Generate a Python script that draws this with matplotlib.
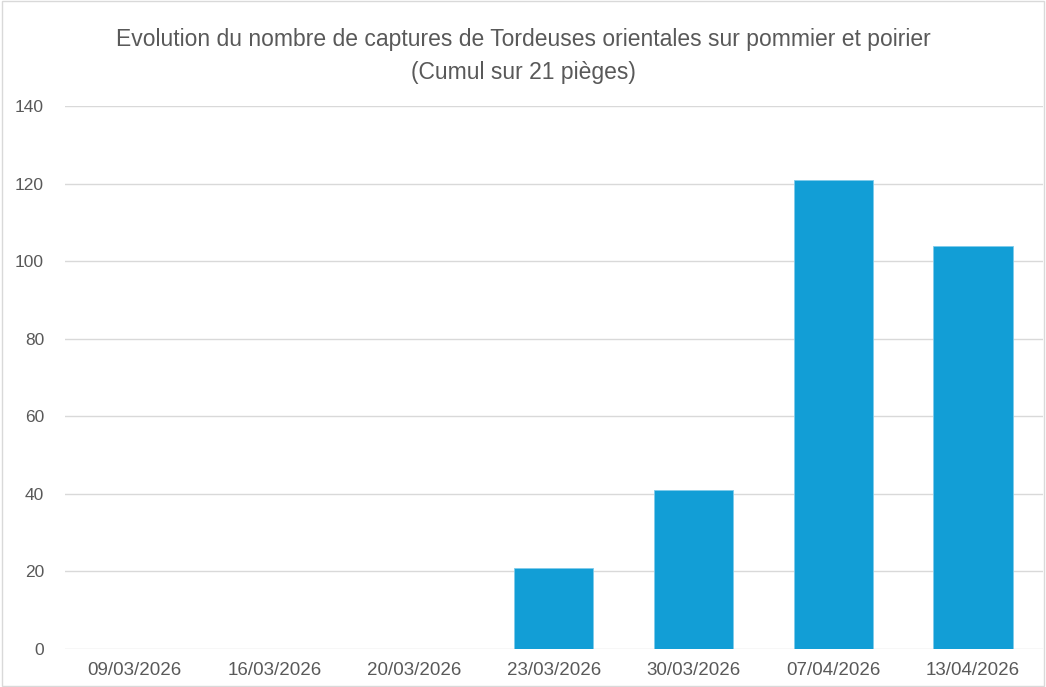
import matplotlib.pyplot as plt
from matplotlib.patches import Rectangle

dates = ['09/03/2026', '16/03/2026', '20/03/2026', '23/03/2026',
         '30/03/2026', '07/04/2026', '13/04/2026']
captures = [0, 0, 0, 21, 41, 121, 104]
yticks = [0, 20, 40, 60, 80, 100, 120, 140]

fig = plt.figure(figsize=(10.46, 6.87), dpi=100)
ax = fig.add_axes([0.0621, 0.0553, 0.9349, 0.7904])

x = range(len(dates))
ax.bar(x, captures, width=0.566, color='#129ED6', edgecolor='#7FCBEA',
       linewidth=0.6, zorder=3)

ax.set_xlim(-0.5, len(dates) - 0.5)
ax.set_ylim(0, 140)
ax.set_yticks(yticks)
ax.set_xticks(list(x))
ax.set_xticklabels(dates)
ax.grid(axis='y', color='#D9D9D9', linewidth=1, zorder=0)
for s in ax.spines.values():
    s.set_visible(False)
ax.tick_params(length=0, labelcolor='#595959')
ax.tick_params(axis='x', labelsize=13.5, pad=9)
ax.tick_params(axis='y', labelsize=12.5, pad=15)
for lbl in ax.get_xticklabels() + ax.get_yticklabels():
    lbl.set_family(['Liberation Sans', 'DejaVu Sans'])

title_font = ['Liberation Sans', 'DejaVu Sans']
fig.text(0.5, 0.943, 'Evolution du nombre de captures de Tordeuses orientales sur pommier et poirier',
         ha='center', va='center', fontsize=16.5, color='#595959', family=title_font)
fig.text(0.5, 0.894, '(Cumul sur 21 pièges)', ha='center', va='center',
         fontsize=16.5, color='#595959', family=title_font)

# outer chart frame
fig.patches.append(Rectangle((0.002, 0.002), 0.996, 0.996, transform=fig.transFigure,
                             fill=False, edgecolor='#D9D9D9', linewidth=1))

fig.savefig('out.png', dpi=100)
